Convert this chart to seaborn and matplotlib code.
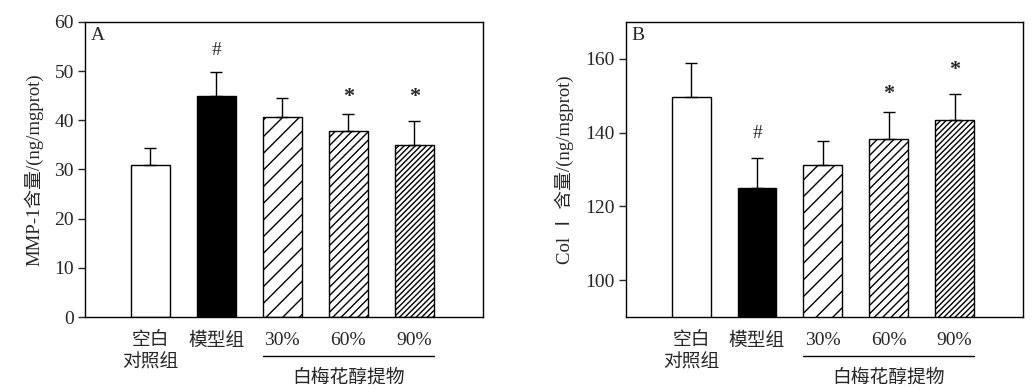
import numpy as np
import pandas as pd
import matplotlib
matplotlib.use("Agg")
import matplotlib.pyplot as plt
import matplotlib.transforms as mtransforms
import seaborn as sns

sns.set_theme(style="white")
FAM = ['Liberation Serif', 'Noto Sans CJK SC', 'DejaVu Sans']
plt.rcParams['font.family'] = FAM
plt.rcParams['hatch.linewidth'] = 1.0
plt.rcParams['axes.unicode_minus'] = False

# ---- data ----
categories = ["空白\n对照组", "模型组", "30%", "60%", "90%"]
mmp1_mean = [31.0, 45.0, 40.6, 37.8, 35.0]
mmp1_err = [3.3, 4.9, 4.0, 3.4, 4.8]
mmp1_marks = ["", "#", "", "*", "*"]
mmp1_mark_y = [None, 54.3, None, 44.7, 44.7]

col1_mean = [149.7, 125.1, 131.1, 138.4, 143.5]
col1_err = [9.3, 8.1, 6.5, 7.3, 7.0]
col1_marks = ["", "#", "", "*", "*"]
col1_mark_y = [None, 139.8, None, 150.4, 157.1]

group_label = "白梅花醇提物"
face_colors = ["white", "black", "white", "white", "white"]
hatches = [None, None, "//", "////", "//////"]

FS = 14      # numbers
FSC = 13.5   # CJK labels
W, H = 1032, 389
fig = plt.figure(figsize=(W / 100, H / 100), dpi=100)
axA = fig.add_axes([85 / W, (H - 317) / H, 398 / W, 295 / H])
axB = fig.add_axes([626 / W, (H - 317) / H, 397 / W, 295 / H])


def draw(ax, means, errs, marks, mark_y, ylim, yticks, ylabel, panel):
    df = pd.DataFrame({"group": categories, "value": means})
    sns.barplot(data=df, x="group", y="value", order=categories, ax=ax,
                width=0.59, color="white", errorbar=None, saturation=1)
    for p, fc, h in zip(ax.patches, face_colors, hatches):
        p.set_facecolor(fc)
        p.set_edgecolor("black")
        p.set_linewidth(1.0)
        if h:
            p.set_hatch(h)
    x = np.arange(len(categories))
    ax.errorbar(x, means, yerr=[np.zeros(len(errs)), errs], fmt="none",
                ecolor="black", elinewidth=1.0, capsize=4, capthick=1.0, zorder=1)
    for xi, m, yy in zip(x, marks, mark_y):
        if m:
            ax.text(xi, yy, m, ha="center", va="center",
                    fontsize=FS + (2 if m == "*" else 0),
                    fontweight="bold" if m == "*" else "normal", family=FAM)
    ax.set_xlim(-0.99, 5.04)
    ax.set_ylim(*ylim)
    ax.set_yticks(yticks)
    ax.set_xlabel("")
    ax.set_ylabel(ylabel, fontsize=FSC, family=FAM, labelpad=8)
    ax.tick_params(axis="y", direction="out", length=5, width=1,
                   labelsize=FS, left=True, pad=3)
    ax.tick_params(axis="x", length=0, labelsize=FSC, pad=11)
    for lab in ax.get_xticklabels() + ax.get_yticklabels():
        lab.set_family(FAM)
        lab.set_linespacing(1.35)
    for lab in ax.get_xticklabels():
        if "%" in lab.get_text():
            lab.set_fontsize(FS)
    for s in ax.spines.values():
        s.set_color("black")
        s.set_linewidth(1.0)
    ax.text(0.014, 0.955, panel, transform=ax.transAxes, ha="left",
            va="center", fontsize=FS, family=FAM)
    trans = mtransforms.blended_transform_factory(ax.transData, ax.transAxes)
    ax.plot([2 - 0.295, 4 + 0.295], [-0.132, -0.132], color="black",
            lw=1.0, transform=trans, clip_on=False)
    ax.text(3, -0.205, group_label, transform=trans, ha="center", va="center",
            fontsize=FSC, family=FAM)


draw(axA, mmp1_mean, mmp1_err, mmp1_marks, mmp1_mark_y, (0, 60),
     [0, 10, 20, 30, 40, 50, 60], "MMP-1含量/(ng/mgprot)", "A")
draw(axB, col1_mean, col1_err, col1_marks, col1_mark_y, (90, 170),
     [100, 120, 140, 160], "Col Ⅰ 含量/(ng/mgprot)", "B")

fig.savefig("out.png", dpi=100)
